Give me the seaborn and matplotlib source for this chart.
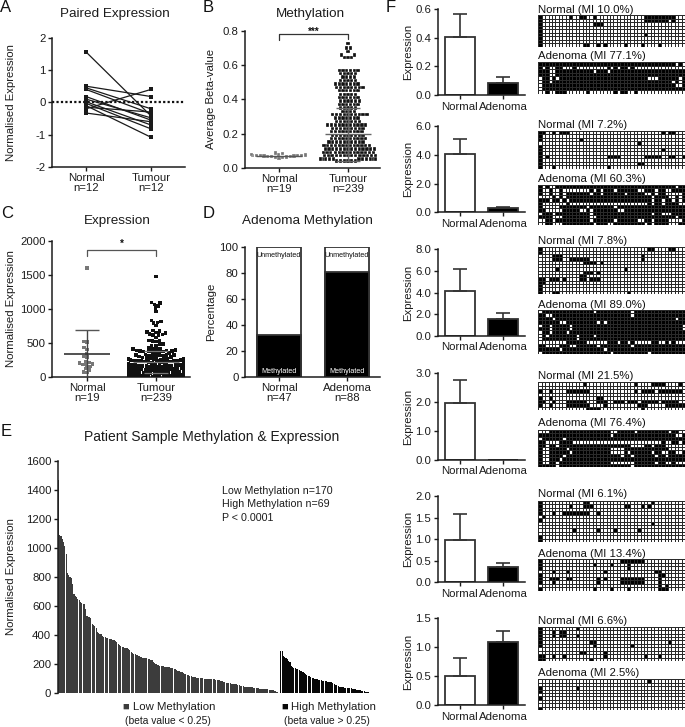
# -*- coding: utf-8 -*-
import numpy as np
import pandas as pd
import matplotlib
matplotlib.use('Agg')
import matplotlib.pyplot as plt
from matplotlib.colors import ListedColormap
import seaborn as sns

W, H = 685, 727
INK = '#1c1c1c'

#%% DATA
# A
a_normal = [1.56, 0.50, 0.45, 0.40, 0.18, 0.10, 0.02, -0.03, -0.10, -0.15, -0.20, -0.33]
a_tumour = [-0.42, 0.18, -0.20, -0.35, -0.55, -0.48, -0.70, -0.82, -1.08, -0.30, 0.40, -0.60]

# B
b_normal = [0.055, 0.058, 0.06, 0.062, 0.064, 0.065, 0.066, 0.068, 0.069, 0.07,
            0.07, 0.071, 0.072, 0.073, 0.074, 0.076, 0.078, 0.082, 0.087]
b_tumour = [.04, .04, .04, .04, .04, .04,
            .05, .05, .05, .05, .05, .05, .05, .05, .05, .05, .05, .05, .05, .05,
            .07, .07, .07, .07, .07, .07, .07, .07, .07, .07, .07, .07, .07, .07,
            .09, .09, .09, .09, .09, .09, .09, .09, .09, .09, .09, .09, .09, .09,
            .11, .11, .11, .11, .11, .11, .11, .11, .11, .11, .11, .11, .11, .11,
            .13, .13, .13, .13, .13, .13, .13, .13, .13, .13, .13, .13, .13,
            .15, .15, .15, .15, .15, .15, .15, .15, .15, .15,
            .17, .17, .17, .17, .17, .17, .17, .17, .17, .17,
            .19, .19, .19, .19, .19, .19, .19, .19, .19,
            .21, .21, .21, .21, .21, .21, .21, .21, .21,
            .23, .23, .23, .23, .23, .23, .23, .23, .23,
            .25, .25, .25, .25, .25, .25, .25, .25, .25, .25, .25,
            .27, .27, .27, .27, .27, .27, .27,
            .29, .29, .29, .29, .29, .29, .29,
            .31, .31, .31, .31, .31, .31, .31, .31, .31, .31,
            .33, .33, .33, .33,
            .35, .35, .35, .35, .35,
            .37, .37, .37, .37, .37, .37,
            .39, .39, .39, .39, .39, .39,
            .41, .41, .41, .41, .41, .41,
            .43, .43, .43, .43, .43,
            .45, .45, .45, .45, .45, .45,
            .47, .47, .47, .47, .47, .47, .47, .47,
            .49, .49, .49, .49, .49, .49, .49,
            .51, .51, .51, .51, .51,
            .53, .53, .53, .53,
            .55, .55, .55, .55, .55,
            .57, .57, .57, .57, .57, .57,
            .645, .645, .645, .66, .66, .68, .70, .70, .725]

# C normal, the tumour group is the same patients as panel E
c_normal = [1600, 520, 510, 430, 400, 340, 300, 290, 220, 210, 200, 190, 180, 170, 150, 120, 100, 70, 60]

# E
low_expr = [1470, 1090, 1085, 1060, 1040, 1010, 960, 830, 815, 800,
            790, 750, 680, 670, 660, 650, 640, 630, 620, 615,
            612, 580, 530, 525, 522, 515, 480, 470, 460, 450,
            425, 415, 410, 405, 395, 390, 385, 382, 378, 375,
            374, 372, 370, 365, 358, 350, 340, 330, 322, 318,
            316, 314, 312, 310, 305, 295, 285, 275, 270, 268,
            265, 262, 258, 252, 250, 246, 243, 241, 240, 238,
            236, 232, 226, 218, 210, 204, 198, 192, 188, 186,
            186, 185, 184, 182, 180, 178, 176, 174, 172, 170,
            165, 160, 156, 152, 148, 144, 140, 136, 132, 128,
            126, 122, 118, 115, 112, 110, 108, 106, 105, 104,
            103, 102, 101, 100, 99, 98, 97, 96, 96, 95,
            95, 94, 93, 92, 90, 88, 84, 80, 76, 72,
            70, 69, 68, 67, 66, 65, 64, 62, 60, 56,
            52, 50, 48, 46, 45, 44, 43, 42, 41, 40,
            38, 37, 36, 35, 34, 33, 32, 31, 30, 29,
            28, 27, 26, 25, 24, 22, 18, 14, 10, 5]
high_expr = [292, 288, 255, 250, 245, 235, 225, 215, 190, 178,
             175, 172, 170, 165, 160, 155, 150, 145, 140, 135,
             128, 122, 118, 112, 106, 102, 100, 98, 96, 94,
             92, 90, 88, 86, 84, 82, 80, 79, 78, 76,
             70, 66, 60, 55, 50, 46, 44, 42, 40, 39,
             38, 37, 36, 35, 34, 32, 30, 28, 26, 24,
             22, 20, 18, 16, 14, 12, 10, 8, 5]

# D
d_cats = ['Normal\nn=47', 'Adenoma\nn=88']
d_methylated = [32, 81]
d_total = [100, 100]

# F bars
f_cats = ['Normal', 'Adenoma']
f_normal_mean = [0.405, 4.07, 4.15, 1.95, 0.99, 0.51]
f_normal_top = [0.565, 5.08, 6.2, 2.77, 1.59, 0.82]
f_adenoma_mean = [0.085, 0.28, 1.55, 0.0, 0.36, 1.09]
f_adenoma_top = [0.125, 0.35, 2.15, 0.0, 0.45, 1.28]
f_ticks = [['0.0', '0.2', '0.4', '0.6'],
           ['0.0', '2.0', '4.0', '6.0'],
           ['0.0', '2.0', '4.0', '6.0', '8.0'],
           ['0.0', '1.0', '2.0', '3.0'],
           ['0.0', '0.5', '1.0', '1.5', '2.0'],
           ['0.0', '0.5', '1.0', '1.5']]
f_map_titles = [['Normal (MI 10.0%)', 'Adenoma (MI 77.1%)'],
                ['Normal (MI 7.2%)', 'Adenoma (MI 60.3%)'],
                ['Normal (MI 7.8%)', 'Adenoma (MI 89.0%)'],
                ['Normal (MI 21.5%)', 'Adenoma (MI 76.4%)'],
                ['Normal (MI 6.1%)', 'Adenoma (MI 13.4%)'],
                ['Normal (MI 6.6%)', 'Adenoma (MI 2.5%)']]

# F methylation grids, '#' methylated, short rows are filled up with the usual state
m1n = ["#........#..##..#..............#########",
       "#..............................#######.#",
       "#...............###",
       "#", "#",
       "#..............................#",
       "#", "#",
       "#............##..#.#.....#....#....#"]
m1a = ["########################################.#.",
       "#.#..##...#.........#.#.##.#...............",
       "###..###########.###.",
       "###..#",
       ".##.#.##########################...######.",
       ".##.###################################.#.",
       ".#######################################..",
       ".#",
       "..#..###......#.......#.##..#.............."]
m2n = ["##..#.###...........................#.##",
       "#",
       "#...........#",
       ".............................#",
       "#",
       "#...................................#",
       "#",
       "#.#.................####.......#####..##..#",
       "#",
       "#............................##",
       "#...#...............#"]
m2a = ["#.#..###################################.##",
       "#..#..#........#.#.###.######..###.##..####",
       "#..#..#.#######.##.######.#####..#.##.....##",
       "....#.#.#########################.####..#.#",
       "###.##.#.########################.##.##.#.##",
       "#.......#.......................#.##.####...",
       "#.....########.#######.###################",
       "##.....#####..#.#######..#################",
       ".###.##########.#################.##...####",
       "####...########..#######################.##",
       "..##.##########.######.######..##.####....#",
       "..##...#########.###..#########.#.####...##"]
m3n = ["#...............................##....##...#",
       "#",
       "....###.......................#",
       "....###..######...............#",
       ".............####.#",
       "",
       ".....#...................#",
       ".............###.#",
       "............##",
       "##.###.#....##.###",
       "##",
       "#", "#",
       "#...##....................#"]
m3a = [".###############.##########.",
       "##..#######################.",
       "####.###################################.",
       "######..#########.#.",
       ".##.#####.################################.",
       "###.#####.################################.",
       ".##.####.",
       ".#.########.####.",
       ".##########.",
       "........######......###.##.#.....##..#.#...",
       "##....###..######.#########.",
       "######.############.",
       ".####################.##########."]
m4n = [".............#..............#....####....#",
       "",
       "#..#....#######.............#.####.#######",
       "",
       "#..#.............##",
       "##..#...######...###..###.###.#####.#####",
       "#..#....#######....#.........###.....######",
       "..............####............#"]
m4a = ["...##################..#####.#########.##..",
       "#####################.##################..",
       ".######.",
       "##....####..........................#..##.#",
       "##.##.#####################....##.###.......",
       "#..#####.############....#############.....",
       "#..######.###########....#.######.##..##..",
       "#..####.################.##.######.##.#",
       "#..###.",
       "#..##.###############.......######.##..#...",
       "#####.#####################.#"]
m5n = ["#............##..................#",
       "#........#...###.........##...#.#",
       "#",
       "#...#..########..#",
       ".#",
       "#",
       ".................................#",
       "",
       "..........#......#....#......#",
       "",
       "#",
       "#"]
m5a = ["#.......................#######",
       "#...............#....#....#",
       "#.........................#",
       "....#...#..........#..............##",
       "#..................................##",
       "#..###..##.......#.#....#######....#",
       "#...#............#......#######....#",
       "...................................#.#",
       "#...............#....#....#........###"]
m6n = ["#..........#",
       "#...#.##",
       "#...#.##...#",
       "#",
       "#..............##.....................#",
       "#...............#..........#",
       "",
       "............##.....#",
       "##..#..#...........#...........#...#",
       "##.............#"]
m6a = ["................................#",
       "",
       "#..........#",
       "#",
       "",
       "#",
       "", "",
       "#"]
f_grids = [[m1n, m1a], [m2n, m2a], [m3n, m3a], [m4n, m4a], [m5n, m5a], [m6n, m6a]]
f_fills = [['.', '#'], ['.', '#'], ['.', '#'], ['.', '#'], ['.', '.'], ['.', '.']]

#%% LAYOUT, everything is in reference pixels
f_bar_boxes = [(8.7, 95.3), (126, 212.3), (249.3, 336), (373, 460), (496, 582.3), (618.3, 705.3)]
f_map_boxes = [[(15.3, 46.7), (62, 94)], [(130.7, 168.7), (185, 225)], [(247.3, 294), (310, 354)],
               [(382.3, 410), (430, 467.3)], [(501, 542), (559.3, 590.7)], [(626.7, 661), (679.3, 710)]]
f_title_y = [[10, 56], [125, 179], [241.5, 305], [376, 423], [494, 554], [621, 673]]
MAP_LEFT, MAP_RIGHT, MAP_COLS = 538.3, 685, 43

sns.set_style('ticks')
plt.rcParams['font.family'] = ['Liberation Sans', 'DejaVu Sans']
plt.rcParams['axes.edgecolor'] = INK
plt.rcParams['text.color'] = INK
plt.rcParams['axes.labelcolor'] = INK
plt.rcParams['xtick.color'] = INK
plt.rcParams['ytick.color'] = INK

fig = plt.figure(figsize=(W / 100, H / 100), dpi=100)


def px_axes(left, top, right, bottom):
    return fig.add_axes([left / W, 1 - bottom / H, (right - left) / W, (bottom - top) / H])


def px_text(x, y, s, size=8.2, ha='left', **kw):
    fig.text(x / W, 1 - y / H, s, fontsize=size, ha=ha, va='center', **kw)


def finish(ax, ylabel, label_x, left, right, yticks, ylabels, ylim, xlim, xlabels=None, size=8.2):
    '''common axis dressing for the small panels'''
    sns.despine(ax=ax)
    ax.set_xlim(*xlim)
    ax.set_ylim(*ylim)
    ax.set_yticks(yticks)
    ax.set_yticklabels(ylabels, fontsize=size)
    if xlabels is not None:
        ax.set_xticks(range(len(xlabels)))
        ax.set_xticklabels(xlabels, fontsize=size, linespacing=0.95)
    ax.set_xlabel('')
    ax.set_ylabel(ylabel, fontsize=size)
    # the label anchor is the right side of the rotated text
    ax.yaxis.set_label_coords((label_x + 6.5 - left) / (right - left), 0.5)
    ax.tick_params(length=2.6, width=1.0, pad=2)
    for sp in ('left', 'bottom'):
        ax.spines[sp].set_linewidth(1.1)


#%% A
ax = px_axes(52, 37.7, 185, 167)
pairs = list(range(len(a_normal)))
df_a = pd.DataFrame({'pos': [0] * len(pairs) + [1] * len(pairs),
                     'val': a_normal + a_tumour,
                     'pair': pairs + pairs})
sns.lineplot(data=df_a, x='pos', y='val', units='pair', estimator=None, color='#1a1a1a',
             marker='s', markersize=3.4, markeredgewidth=0, linewidth=0.9, ax=ax)
ax.axhline(0, color='#111111', linestyle=(0, (1, 1)), linewidth=1.6, zorder=1)
finish(ax, 'Normalised Expression', 10, 52, 185, [-2, -1, 0, 1, 2], ['-2', '-1', '0', '1', '2'],
       (-2, 2), (-0.523, 1.523), ['Normal\nn=12', 'Tumour\nn=12'])

#%% B
ax = px_axes(245, 31, 380, 167.7)
df_b = pd.DataFrame({'group': ['Normal'] * len(b_normal) + ['Tumour'] * len(b_tumour),
                     'val': b_normal + b_tumour})
sns.swarmplot(data=df_b, x='group', y='val', hue='group', palette={'Normal': '#777777', 'Tumour': '#111111'},
              marker='s', size=2.4, edgecolor='white', linewidth=0.2, warn_thresh=1, legend=False, ax=ax)
ax.hlines([0.07], -0.33, 0.33, color='#555555', linewidth=1.0, zorder=5)
ax.hlines([0.195], 0.67, 1.33, color='#666666', linewidth=1.0, zorder=5)
ax.hlines([0.352, 0.04], 0.83, 1.17, color='#666666', linewidth=1.0, zorder=5)
ax.vlines([1], 0.04, 0.352, color='#666666', linewidth=1.0, zorder=5)
ax.plot([0, 0, 1, 1], [0.75, 0.785, 0.785, 0.755], color='#333333', linewidth=0.9, clip_on=False)
finish(ax, 'Average Beta-value', 210, 245, 380, [0, 0.2, 0.4, 0.6, 0.8], ['0.0', '0.2', '0.4', '0.6', '0.8'],
       (0, 0.8), (-0.493, 1.464), ['Normal\nn=19', 'Tumour\nn=239'])
ax.text(0.5, 0.795, '***', ha='center', va='center', fontsize=7, fontweight='bold', color='#111111')

#%% C
ax = px_axes(52, 240.7, 190, 376.7)
c_tumour = low_expr + high_expr
df_c = pd.DataFrame({'group': ['Normal'] * len(c_normal) + ['Tumour'] * len(c_tumour),
                     'val': c_normal + c_tumour})
sns.swarmplot(data=df_c, x='group', y='val', hue='group', palette={'Normal': '#777777', 'Tumour': '#111111'},
              marker='s', size=2.5, linewidth=0, warn_thresh=1, legend=False, ax=ax)
ax.vlines([0], 0, 680, color='#444444', linewidth=1.0, zorder=5)
ax.hlines([340], -0.33, 0.33, color='#333333', linewidth=1.2, zorder=5)
ax.hlines([680], -0.17, 0.17, color='#555555', linewidth=1.0, zorder=5)
ax.hlines([220], 0.67, 1.33, color='#777777', linewidth=0.9, zorder=5)
ax.hlines([375, 60], 0.83, 1.17, color='#777777', linewidth=0.9, zorder=5)
ax.plot([0, 0, 1, 1], [1780, 1860, 1860, 1780], color='#555555', linewidth=0.9)
finish(ax, 'Normalised Expression', 10, 52, 190, [0, 500, 1000, 1500, 2000], ['0', '500', '1000', '1500', '2000'],
       (0, 2000), (-0.507, 1.493), ['Normal\nn=19', 'Tumour\nn=239'])
ax.text(0.5, 1950, '*', ha='center', va='center', fontsize=7, fontweight='bold', color='#111111')

#%% D
ax = px_axes(245, 247.3, 380, 377)
sns.barplot(x=d_cats, y=d_total, color='white', edgecolor='#333333', linewidth=1.3, width=0.66, saturation=1, ax=ax)
sns.barplot(x=d_cats, y=d_methylated, color='black', edgecolor='#333333', linewidth=1.3, width=0.66, saturation=1, ax=ax)
finish(ax, 'Percentage', 210, 245, 380, [0, 20, 40, 60, 80, 100], ['0', '20', '40', '60', '80', '100'],
       (0, 100), (-0.5, 1.485), d_cats)
for i in range(2):
    ax.text(i, 94, 'Unmethylated', ha='center', va='center', fontsize=5.2, color='#111111')
    ax.text(i, 4.5, 'Methylated', ha='center', va='center', fontsize=5.2, color='white')

#%% E
ax = px_axes(57.7, 460.7, 370, 693.3)
groups = ['low'] * len(low_expr) + ['gap'] + ['high'] * len(high_expr)
df_e = pd.DataFrame({'pos': range(len(groups)), 'expr': low_expr + [0] + high_expr, 'group': groups})
sns.barplot(data=df_e, x='pos', y='expr', hue='group', palette={'low': '#3c3c3c', 'gap': 'white', 'high': '#080808'},
            dodge=False, width=0.88, saturation=1, linewidth=0, legend=False, ax=ax)
finish(ax, 'Normalised Expression', 10, 57.7, 370, list(range(0, 1601, 200)),
       ['0', '200', '400', '600', '800', '1000', '1200', '1400', '1600'], (0, 1600), (-0.5, len(groups) - 0.5))
ax.spines['bottom'].set_visible(False)
ax.set_xticks([])

#%% F
for i in range(6):
    top, bottom = f_bar_boxes[i]
    ax = px_axes(437.7, top, 525, bottom)
    sns.barplot(x=f_cats, y=[f_normal_mean[i], f_adenoma_mean[i]], hue=f_cats, palette=['white', 'black'],
                edgecolor='#333333', linewidth=1.3, width=0.68, saturation=1, legend=False, ax=ax)
    means = [f_normal_mean[i], f_adenoma_mean[i]]
    ups = [f_normal_top[i] - means[0], f_adenoma_top[i] - means[1]]
    if means[1] == 0:
        ax.errorbar([0], means[:1], yerr=[[0], ups[:1]], fmt='none', ecolor='#333333', elinewidth=1.2, capsize=4.8, capthick=1.2)
    else:
        ax.errorbar([0, 1], means, yerr=[[0, 0], ups], fmt='none', ecolor='#333333', elinewidth=1.2, capsize=4.8, capthick=1.2)
    labels = f_ticks[i]
    values = [float(t) for t in labels]
    finish(ax, 'Expression', 407, 437.7, 525, values, labels, (0, values[-1]), (-0.508, 1.5), f_cats)

    for j in range(2):
        y0, y1 = f_map_boxes[i][j]
        fill = f_fills[i][j]
        grid = np.array([[c == '#' for c in r.ljust(MAP_COLS, fill)[:MAP_COLS]] for r in f_grids[i][j]], dtype=int)
        hm = px_axes(MAP_LEFT, y0, MAP_RIGHT, y1)
        sns.heatmap(grid, cmap=ListedColormap(['white', 'black']), vmin=0, vmax=1, cbar=False,
                    linewidths=0.7, linecolor='#2a2a2a', xticklabels=False, yticklabels=False, ax=hm)
        px_text(MAP_LEFT, f_title_y[i][j], f_map_titles[i][j], color='#111111')

#%% TEXT
px_text(115, 14, 'Paired Expression', size=9.7, ha='center')
px_text(310, 14, 'Methylation', size=9.7, ha='center')
px_text(117, 221, 'Expression', size=9.7, ha='center')
px_text(307, 221, 'Adenoma Methylation', size=9.7, ha='center')
px_text(212, 437, 'Patient Sample Methylation & Expression', size=10, ha='center')

for letter, x, y in [('A', 0, 8), ('B', 203, 8), ('C', 1, 213), ('D', 203, 213), ('E', 1, 431), ('F', 386, 8)]:
    px_text(x, y, letter, size=12, color='#111111')

px_text(222, 490.7, 'Low Methylation n=170', size=7.7)
px_text(222, 504.3, 'High Methylation n=69', size=7.7)
px_text(222, 518, 'P < 0.0001', size=7.7)

px_text(122, 707, '■', size=8, color='#3c3c3c')
px_text(132.7, 707, 'Low Methylation', size=8.2)
px_text(168, 720.5, '(beta value < 0.25)', size=7.4, ha='center')
px_text(281, 707, '■', size=8, color='#080808')
px_text(291, 707, 'High Methylation', size=8.2)
px_text(327, 720.5, '(beta value > 0.25)', size=7.4, ha='center')

fig.savefig('out.png', dpi=100, facecolor='white')
